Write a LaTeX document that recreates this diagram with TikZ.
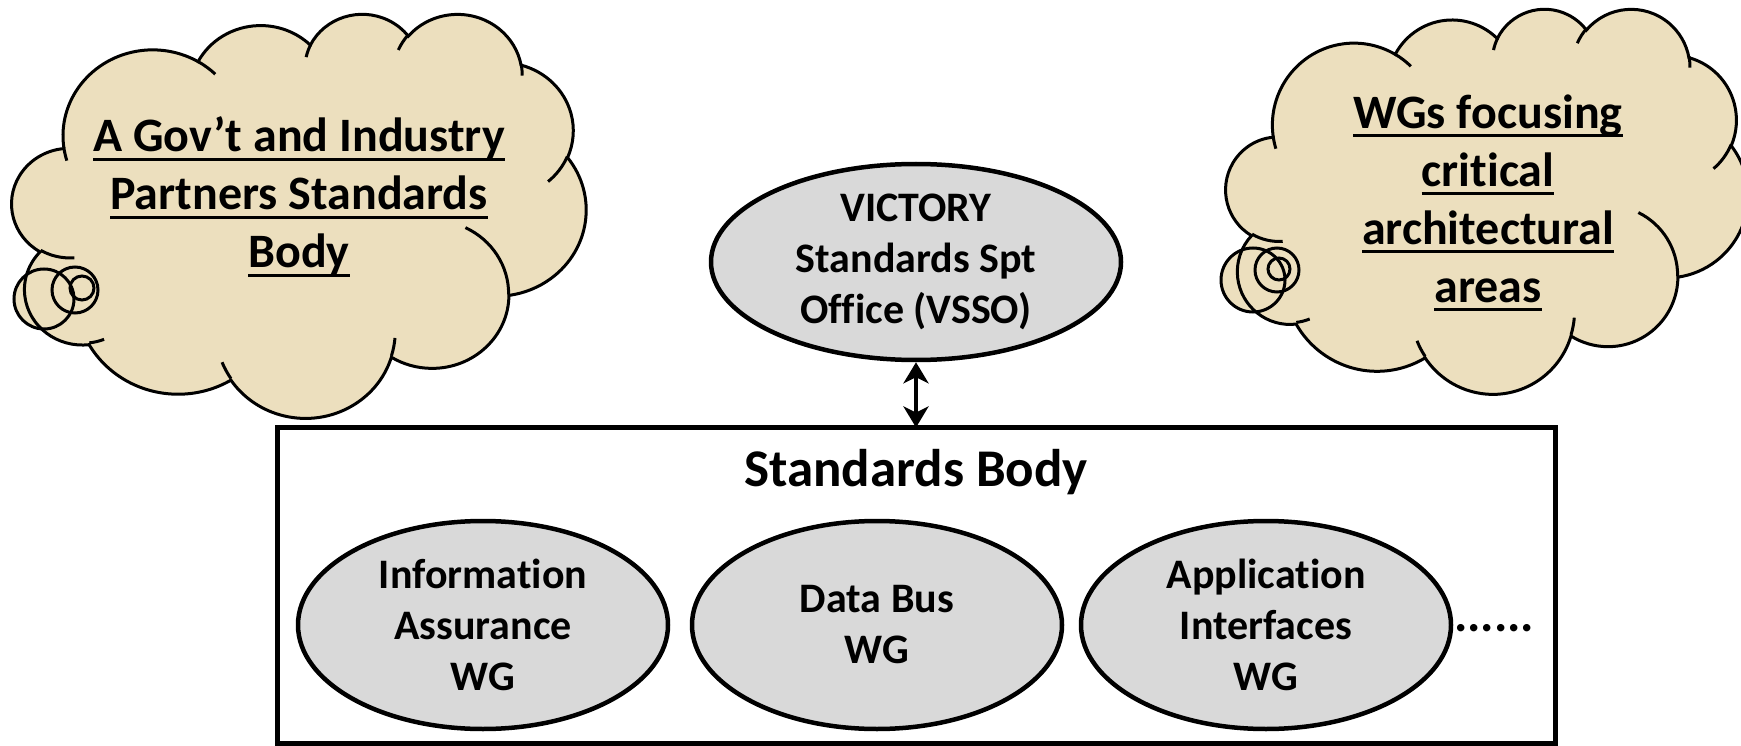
\documentclass[tikz,border=0pt]{standalone}
\usepackage{fontspec}
\setmainfont{Carlito}[Ligatures=CommonOff]
\usetikzlibrary{shapes.geometric,arrows.meta}

\definecolor{parchment}{RGB}{236,223,190}
\definecolor{wggray}{RGB}{217,217,217}

\newsavebox\ulbox
\newcommand\uln[1]{\sbox\ulbox{#1}\rlap{\rule[-9pt]{\wd\ulbox}{3pt}}\usebox\ulbox}

% cloud arcs, in 1/4320 of the cloud box
\def\cloudarcs{675.3/919.0/-190.4875/123.7805,%
533.3/726.7/-144.1024/89.9452,%
436.5/594.5/-145.8079/99.7230,%
485.7/659.5/-130.9861/117.2417,%
533.3/727.3/-78.7089/109.0269,%
677.5/922.0/-46.2673/130.2690,%
578.5/786.7/0.6250/114.0333,%
675.2/921.5/22.4516/115.1726,%
772.0/1054.3/66.2426/75.7110,%
436.0/591.8/-274.9421/146.7356,%
434.5/594.5/-246.8285/152.5189}
\def\cloudinner{469.3/2617.7/434.5/594.5/86.742/26.4295,%
692.8/3489.9/436.0/591.8/73.6105/11.4475,%
1647.8/3909.0/675.2/921.5/137.6242/14.0811,%
2882.7/3475.1/675.2/921.5/6.4533/15.9984,%
3412.9/2295.4/578.5/786.7/-70.2924/70.9174,%
4179.8/1535.4/533.3/727.3/30.3180/27.7515,%
3832.4/542.6/485.7/659.5/-13.7443/14.8589,%
2907.8/395.2/485.7/659.5/-149.1815/18.1954,%
2214.1/472.0/436.5/594.5/-163.4943/17.6864,%
1400.0/519.2/675.3/919.0/-66.7070/12.3194,%
412.7/1578.9/675.3/919.0/157.6544/11.8582}

\newcommand\cloudarcpar{%
 \pgfmathsetmacro\rx{\wr*\sx}\pgfmathsetmacro\ry{\hr*\sy}%
 \pgfmathsetmacro\ta{atan2(\wr*sin(\sa),\hr*cos(\sa))}%
 \pgfmathsetmacro\tb{atan2(\wr*sin(\sa+\sw),\hr*cos(\sa+\sw))}%
 \pgfmathsetmacro\dl{\tb-\ta}%
 \pgfmathsetmacro\dl{\dl+360*(\dl<0)}%
 \global\let\rx\rx \global\let\ry\ry \global\let\ta\ta \global\let\dl\dl}

% #1,#2 top left corner, #3 width, #4 height
\newcommand\drawcloud[4]{%
 \pgfmathsetmacro\cx{#1}\pgfmathsetmacro\cy{#2}%
 \pgfmathsetmacro\sx{#3/4320}\pgfmathsetmacro\sy{#4/4320}%
 \filldraw [puff, fill=parchment]
  (\cx+390*\sx,\cy+1437*\sy)
  \foreach \wr/\hr/\sa/\sw in \cloudarcs {
   \pgfextra{\cloudarcpar}
   arc [start angle=\ta, delta angle=\dl, x radius=\rx, y radius=\ry]
  } -- cycle;
 \foreach \px/\py/\wr/\hr/\sa/\sw in \cloudinner {
  \cloudarcpar
  \draw [puff]
   (\cx+\px*\sx,\cy+\py*\sy)
   arc [start angle=\ta, delta angle=\dl, x radius=\rx, y radius=\ry];
 }%
}

\tikzset{
 puff/.style={draw=black, line width=3pt},
 wg/.style={ellipse, draw, line width=4.5pt, fill=wggray,
  minimum width=370pt, minimum height=208pt, inner sep=-10pt,
  align=center, font=\fontsize{42}{51}\selectfont\bfseries},
 cloudtext/.style={align=center, inner sep=0pt,
  font=\fontsize{48}{58}\selectfont\bfseries},
 bodytitle/.style={anchor=base, inner sep=0pt,
  font=\fontsize{53}{62}\selectfont\bfseries},
 etcdots/.style={anchor=base west, inner sep=0pt,
  font=\fontsize{50}{58}\selectfont\bfseries},
 twoway/.style={{Stealth[length=21pt,width=25pt,inset=6pt]}-{Stealth[length=21pt,width=25pt,inset=6pt]}, line width=4pt},
}

\begin{document}
\begin{tikzpicture}[x=1pt,y=-1pt]
\useasboundingbox (0,0) rectangle (1741,746);

% clouds
\fill [parchment] (44,299) circle (30);
\fill [parchment] (1253,280) circle (32);
\drawcloud{12}{13}{574}{404}
\drawcloud{1226}{8}{522}{385}

\draw [puff] (44,299) circle (30);
\draw [puff] (75,290) circle (23);
\draw [puff] (82,288) circle (12);

\draw [puff] (1253,280) circle (32);
\draw [puff] (1277,270) circle (22);
\draw [puff] (1279,269) circle (11);

\node [cloudtext] (gov) at (299,197)
 {\uln{A Gov’t and Industry}\\\uln{Partners Standards}\\\uln{Body}};
\node [cloudtext] (wgs) at (1488,203)
 {\uln{WGs focusing}\\\uln{critical}\\\uln{architectural}\\\uln{areas}};

% office and standards body
\node [wg, minimum width=410pt, minimum height=196pt] (vsso) at (916,262)
 {VICTORY\\Standards Spt\\Office (VSSO)};

\node [draw, line width=5pt, minimum width=1278pt, minimum height=316pt,
 inner sep=0pt, outer sep=0pt, anchor=north west] (body) at (277,427.5) {};
\node [bodytitle] (title) at (916,486) {Standards Body};

\node [wg] (ia) at (483,625) {Information\\Assurance\\WG};
\node [wg] (bus) at (877,625) {Data Bus\\WG};
\node [wg] (api) at (1266,625) {Application\\Interfaces\\WG};
\node [etcdots] (more) at (1454,631) {......};

\draw 
[twoway] 
(vsso.south)--(body.north);

\end{tikzpicture}
\end{document}
